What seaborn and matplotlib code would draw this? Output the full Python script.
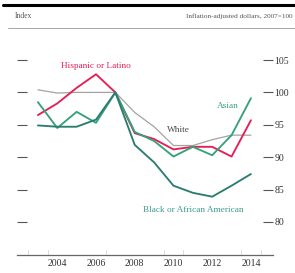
import pandas as pd
import matplotlib
matplotlib.use("Agg")
import matplotlib.pyplot as plt
from matplotlib.lines import Line2D
import seaborn as sns

# values (index, 2007=100)
years = list(range(2003, 2015))
hispanic = [96.5, 98.3, 100.7, 102.8, 100, 93.7, 92.8, 91.2, 91.6, 91.6, 90.1, 95.7]
white = [100.4, 99.9, 100, 100, 100, 96.9, 94.7, 91.8, 91.8, 92.7, 93.4, 93.4]
asian = [98.5, 94.5, 97.0, 95.3, 100, 93.9, 92.5, 90.1, 91.6, 90.3, 93.4, 99.1]
black = [94.9, 94.7, 94.7, 95.8, 100, 91.9, 89.2, 85.6, 84.5, 83.9, 85.6, 87.4]

series = ["White", "Hispanic or Latino", "Asian", "Black or African American"]
ytick_vals = [80, 85, 90, 95, 100, 105]
xtick_labels = [2004, 2006, 2008, 2010, 2012, 2014]

df = pd.DataFrame({
    "year": years * 4,
    "value": white + hispanic + asian + black,
    "group": [s for s in series for _ in years],
})

colors = {
    "White": "#a3a3a3",
    "Hispanic or Latino": "#e61e55",
    "Asian": "#37a07c",
    "Black or African American": "#2a7d72",
}

sns.set_style("white")
plt.rcParams['font.family'] = ['Liberation Serif', 'DejaVu Serif']

fig = plt.figure(figsize=(2.95, 2.73), dpi=100)
ax = fig.add_axes([17 / 295, 18 / 273, 256 / 295, 220 / 273])

sns.lineplot(data=df, x="year", y="value", hue="group", palette=colors,
             hue_order=series, legend=False, ax=ax, linewidth=1.35)
for l in ax.lines:
    if l.get_color() == "#a3a3a3":
        l.set_linewidth(0.9)

ax.set_xlim(2001.92, 2015.14)
ax.set_ylim(74.9, 108.86)
ax.set_xlabel("")
ax.set_ylabel("")

for s in ["top", "left", "right"]:
    ax.spines[s].set_visible(False)
ax.spines["bottom"].set_color("#666666")
ax.spines["bottom"].set_linewidth(0.9)

ax.set_yticks(ytick_vals)
ax.set_yticklabels([str(v) for v in ytick_vals])
ax.tick_params(axis="y", left=True, right=True, labelleft=False, labelright=True,
               direction="in", length=7.5, width=0.8, color="#555555",
               labelsize=7, labelcolor="#333333", pad=1)

# year labels without marks, tick marks on half years
ax.set_xticks(xtick_labels)
ax.set_xticklabels([str(v) for v in xtick_labels])
ax.tick_params(axis="x", which="major", length=0, labelsize=7,
               labelcolor="#333333", pad=3)
ax.set_xticks([2004.5, 2005.5, 2007.5, 2008.5, 2011.5, 2012.5, 2001.95, 2015.1],
              minor=True)
ax.tick_params(axis="x", which="minor", direction="in", length=6, width=0.8,
               color="#666666")
for xv in [2002.5, 2003.5, 2006.5, 2009.5, 2010.5, 2013.5, 2014.5]:
    ax.plot([xv, xv], [74.9, 75.7], color="#dddddd", lw=0.7)

# series labels
ax.text(2006.0, 104.1, "Hispanic or Latino", color="#e61e55", fontsize=6.7,
        ha="center", va="center")
ax.text(2010.28, 94.2, "White", color="#444444", fontsize=6.7,
        ha="center", va="center")
ax.text(2012.81, 97.9, "Asian", color="#37a07c", fontsize=6.7,
        ha="center", va="center")
ax.text(2011.0, 81.85, "Black or African American", color="#3a9a8e",
        fontsize=6.7, ha="center", va="center")

# header
fig.add_artist(Line2D([3 / 295, 1], [1 - 4.5 / 273] * 2, transform=fig.transFigure,
                      color="black", lw=2.2))
fig.add_artist(Line2D([8 / 295, 1], [1 - 28 / 273] * 2, transform=fig.transFigure,
                      color="#999999", lw=0.6))
fig.text(15 / 295, 1 - 16 / 273, "Index", fontsize=5.5, color="#555555",
         ha="left", va="center")
fig.text(293 / 295, 1 - 16 / 273, "Inflation-adjusted dollars, 2007=100",
         fontsize=5.2, color="#555555", ha="right", va="center")

fig.savefig("out.png", dpi=100)
